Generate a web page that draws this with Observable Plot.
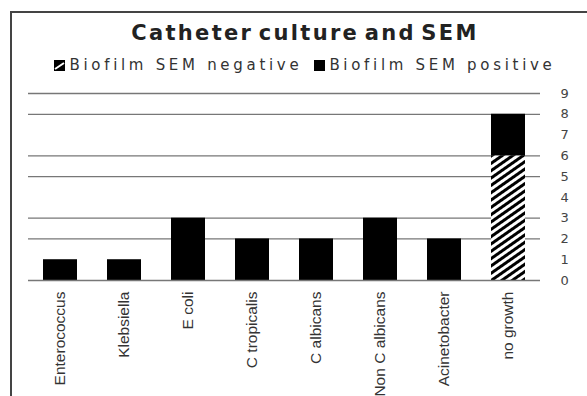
<!DOCTYPE html>
<html>
<head>
<meta charset="utf-8">
<script src="https://cdn.jsdelivr.net/npm/d3@7"></script>
<script src="https://cdn.jsdelivr.net/npm/@observablehq/plot@0.6"></script>
<style>
  html, body { margin: 0; padding: 0; background: #fff; }
  #wrap { position: relative; width: 587px; height: 396px; overflow: hidden; background: #fff; }
  #frame { position: absolute; left: 10px; top: 11px; right: -5px; bottom: -5px; border-left: 2px solid #444; border-top: 2px solid #444; }
  #title { position: absolute; left: 0; width: 610px; top: 21px; text-align: center; font-family: "DejaVu Sans", sans-serif; font-weight: bold; font-size: 21px; color: #222; letter-spacing: 2.3px; word-spacing: -4px; white-space: nowrap; }
  #legend { position: absolute; left: 0; width: 610px; top: 56px; text-align: center; font-family: "DejaVu Sans", sans-serif; font-size: 15px; color: #333; letter-spacing: 3.7px; white-space: nowrap; }
  #legend .sw { display: inline-block; width: 11px; height: 11px; vertical-align: -1px; margin-right: 4px; }
  #legend .item { margin: 0 6px; }
  #chart { position: absolute; left: 0; top: 0; }
</style>
</head>
<body>
<div id="wrap">
  <div id="frame"></div>
  <div id="title">Catheter culture and SEM</div>
  <div id="legend"></div>
  <div id="chart"></div>
</div>
<script>
const categories = ["Enterococcus", "Klebsiella", "E coli", "C tropicalis", "C albicans", "Non C albicans", "Acinetobacter", "no growth"];
const seriesNames = ["Biofilm SEM negative", "Biofilm SEM positive"];
const negativeValues = [0, 0, 0, 0, 0, 0, 0, 6];
const positiveValues = [1, 1, 3, 2, 2, 3, 2, 2];
const yTicks = [0, 1, 2, 3, 4, 5, 6, 7, 8, 9];
const gridLines = [2, 3, 5, 6, 8, 9];

const data = [];
categories.forEach((c, i) => {
  data.push({category: c, series: seriesNames[0], value: negativeValues[i]});
  data.push({category: c, series: seriesNames[1], value: positiveValues[i]});
});

const chart = Plot.plot({
  width: 587,
  height: 396,
  marginTop: 93,
  marginBottom: 116,
  marginLeft: 28,
  marginRight: 47,
  style: {background: "transparent", overflow: "visible"},
  x: {domain: categories, paddingInner: 0.47, paddingOuter: 0.235, label: null},
  y: {domain: [0, 9], label: null},
  color: {domain: seriesNames, range: ["url(#hatch)", "#000"]},
  marks: [
    Plot.gridY(gridLines, {stroke: "#777", strokeOpacity: 1, strokeWidth: 1.3}),
    Plot.barY(data, Plot.stackY({x: "category", y: "value", fill: "series", order: seriesNames})),
    Plot.ruleY([0], {stroke: "#777", strokeWidth: 1.3}),
    Plot.axisX({tickRotate: -90, tickSize: 0, tickPadding: 11, fontSize: 15.5, fill: "#333",
      fontFamily: "'Liberation Sans', Arial, sans-serif", label: null}),
    Plot.axisY(yTicks, {anchor: "right", tickSize: 0, tickPadding: 20, fontSize: 13, fill: "#444",
      fontFamily: "'DejaVu Sans', sans-serif", label: null})
  ]
});

const ns = "http://www.w3.org/2000/svg";
function addPattern(svg, id) {
  let defs = svg.querySelector("defs");
  if (!defs) { defs = document.createElementNS(ns, "defs"); svg.insertBefore(defs, svg.firstChild); }
  const p = document.createElementNS(ns, "pattern");
  p.setAttribute("id", id);
  p.setAttribute("patternUnits", "userSpaceOnUse");
  p.setAttribute("width", "6");
  p.setAttribute("height", "6");
  p.setAttribute("patternTransform", "rotate(-35)");
  const bg = document.createElementNS(ns, "rect");
  bg.setAttribute("width", "6"); bg.setAttribute("height", "6"); bg.setAttribute("fill", "#fff");
  const st = document.createElementNS(ns, "rect");
  st.setAttribute("width", "6"); st.setAttribute("height", "3"); st.setAttribute("fill", "#000");
  p.appendChild(bg); p.appendChild(st);
  defs.appendChild(p);
}
addPattern(chart, "hatch");
document.getElementById("chart").appendChild(chart);

// legend
const legend = document.getElementById("legend");
seriesNames.forEach((name, i) => {
  const item = document.createElement("span");
  item.className = "item";
  const sw = document.createElementNS(ns, "svg");
  sw.setAttribute("class", "sw");
  sw.setAttribute("width", "11"); sw.setAttribute("height", "11");
  const r = document.createElementNS(ns, "rect");
  r.setAttribute("width", "11"); r.setAttribute("height", "11");
  r.setAttribute("fill", "#000");
  sw.appendChild(r);
  if (i === 0) {
    const l = document.createElementNS(ns, "path");
    l.setAttribute("d", "M1,9 L10,3");
    l.setAttribute("stroke", "#fff"); l.setAttribute("stroke-width", "2");
    sw.appendChild(l);
  }
  item.appendChild(sw);
  item.appendChild(document.createTextNode(name));
  legend.appendChild(item);
});
</script>
</body>
</html>
